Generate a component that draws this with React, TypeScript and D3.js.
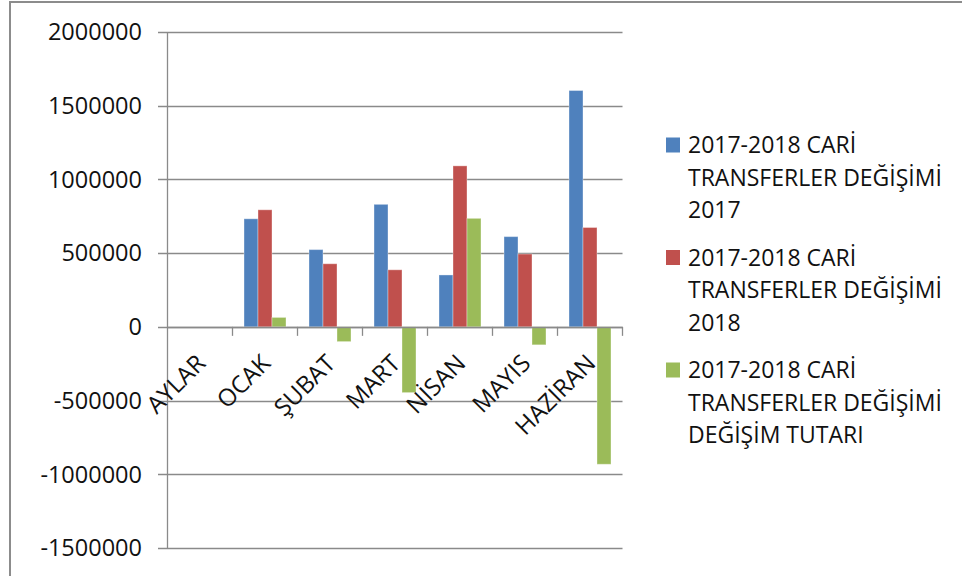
import React from "react";
import * as d3 from "d3";

const categories = ["AYLAR", "OCAK", "ŞUBAT", "MART", "NİSAN", "MAYIS", "HAZİRAN"];
const values2017: (number | null)[] = [null, 733000, 524000, 831000, 352000, 612000, 1603000];
const values2018: (number | null)[] = [null, 794000, 428000, 387000, 1092000, 494000, 674000];
const valuesDiff: (number | null)[] = [null, 64000, -100000, -446000, 736000, -122000, -932000];
const seriesNames = [
  ["2017-2018 CARİ", "TRANSFERLER DEĞİŞİMİ", "2017"],
  ["2017-2018 CARİ", "TRANSFERLER DEĞİŞİMİ", "2018"],
  ["2017-2018 CARİ", "TRANSFERLER DEĞİŞİMİ", "DEĞİŞİM TUTARI"],
];
const seriesColors = ["#4F81BD", "#C0504D", "#9BBB59"];
const yTicks = [-1500000, -1000000, -500000, 0, 500000, 1000000, 1500000, 2000000];

const W = 962;
const H = 576;
const FONT = "'Open Sans', sans-serif";

export default function App() {
  const plot = { left: 167.5, right: 622.5, top: 32, bottom: 548 };
  const y = d3.scaleLinear().domain([-1500000, 2000000]).range([plot.bottom, plot.top]);
  const x = d3.scaleBand<string>().domain(categories).range([plot.left, plot.right]).padding(0);
  const bw = x.bandwidth();
  const inner = d3
    .scaleBand<number>()
    .domain([0, 1, 2])
    .range([bw * 0.177, bw * 0.823])
    .padding(0);
  const series = [values2017, values2018, valuesDiff];
  const y0 = y(0);

  return (
    <svg
      width={W}
      height={H}
      style={{ position: "absolute", left: 0, top: 0, background: "#fff" }}
      fontFamily={FONT}
    >
      <rect x={0} y={0} width={W} height={H} fill="#fff" />
      <rect x={10} y={2} width={W + 40} height={H + 40} fill="none" stroke="#8c8c8c" strokeWidth={2} />

      {/* gridlines + y ticks */}
      {yTicks.map((t) => (
        <g key={t}>
          <line x1={158} x2={plot.right} y1={Math.round(y(t)) + 0.5} y2={Math.round(y(t)) + 0.5} stroke="#8a8a8a" strokeWidth={1.3} />
          <text x={142} y={y(t)} dy="0.35em" textAnchor="end" fontSize={23.5} fill="#111">
            {t}
          </text>
        </g>
      ))}

      {/* y axis */}
      <line x1={plot.left} x2={plot.left} y1={plot.top} y2={plot.bottom} stroke="#8a8a8a" strokeWidth={1.3} />

      {/* bars */}
      {series.map((vals, si) =>
        vals.map((v, ci) => {
          if (v === null) return null;
          const bx = (x(categories[ci]) as number) + (inner(si) as number);
          const yv = y(v);
          return (
            <rect
              key={`${si}-${ci}`}
              x={bx}
              y={Math.min(yv, y0)}
              width={inner.bandwidth()}
              height={Math.abs(yv - y0)}
              fill={seriesColors[si]}
              stroke="rgba(255,255,255,0.35)"
              strokeWidth={1}
            />
          );
        })
      )}

      {/* category axis at zero */}
      <line x1={plot.left} x2={plot.right} y1={Math.round(y0) + 0.5} y2={Math.round(y0) + 0.5} stroke="#8a8a8a" strokeWidth={1.3} />
      {categories.map((c) => {
        const xb = (x(c) as number) + bw;
        return <line key={c + "t"} x1={xb} x2={xb} y1={y0} y2={y0 + 9} stroke="#8a8a8a" strokeWidth={1.3} />;
      })}
      {categories.map((c) => {
        const cx = (x(c) as number) + bw / 2;
        return (
          <text
            key={c}
            transform={`translate(${cx + 1},${y0 + 32}) rotate(-45)`}
            textAnchor="end"
            dy="0.35em"
            fontSize={24}
            fill="#111"
          >
            {c}
          </text>
        );
      })}

      {/* legend */}
      {seriesNames.map((lines, i) => {
        const top = 145 + i * 112.5;
        return (
          <g key={i}>
            <rect x={666} y={top - 7.5} width={14} height={15} fill={seriesColors[i]} />
            {lines.map((ln, j) => (
              <text key={j} x={688} y={top + j * 32.5} dy="0.35em" fontSize={23} fill="#111">
                {ln}
              </text>
            ))}
          </g>
        );
      })}
    </svg>
  );
}
